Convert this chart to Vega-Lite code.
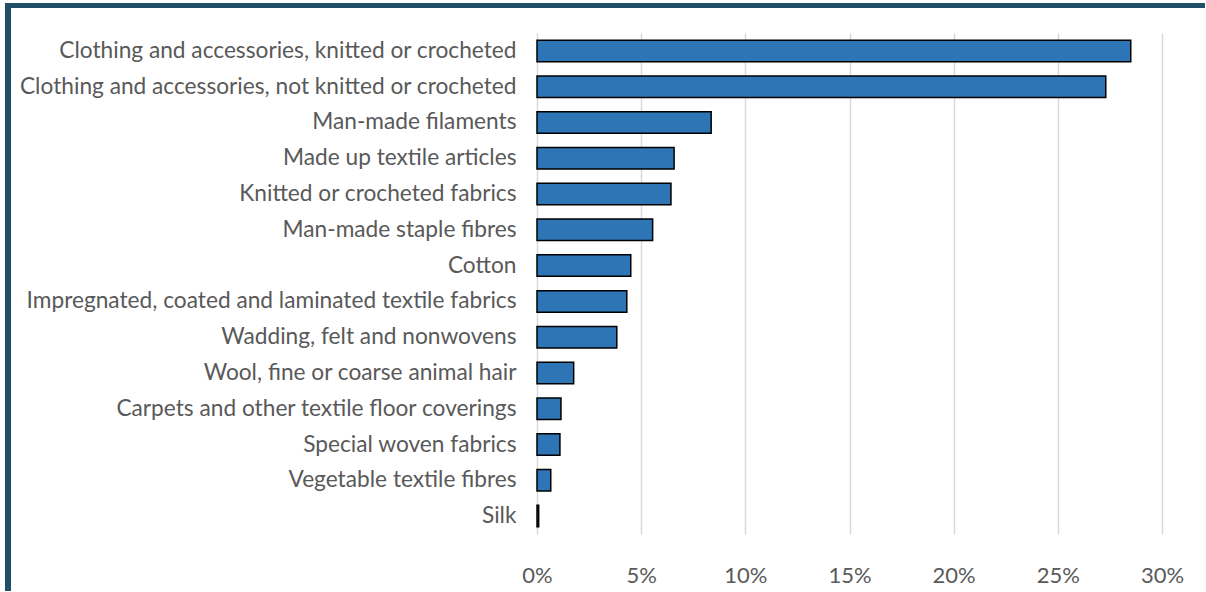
{
  "$schema": "https://vega.github.io/schema/vega-lite/v6.json",
  "padding": {"left": 5, "top": 3, "right": 0, "bottom": 0},
  "autosize": {"type": "pad"},
  "background": "white",
  "spacing": 0,
  "config": {
    "view": {"stroke": null},
    "font": "Lato"
  },
  "vconcat": [
    {
      "spacing": 0,
      "hconcat": [
        {
          "width": 6,
          "height": 30,
          "data": {"values": [{"part": "left border, top"}]},
          "mark": {"type": "rect", "color": "#1F4E66"},
          "encoding": {}
        },
        {
          "width": 1194,
          "height": 5,
          "data": {"values": [{"part": "top border"}]},
          "mark": {"type": "rect", "color": "#1F4E66"},
          "encoding": {}
        }
      ]
    },
    {
      "spacing": 0,
      "hconcat": [
        {
          "width": 6,
          "height": 558,
          "data": {"values": [{"part": "left border"}]},
          "mark": {"type": "rect", "color": "#1F4E66"},
          "encoding": {}
        },
        {
          "width": 625,
          "height": 501,
          "data": {
            "values": [
              {"category": "Clothing and accessories, knitted or crocheted", "share": 0.285},
              {"category": "Clothing and accessories, not knitted or crocheted", "share": 0.273},
              {"category": "Man-made filaments", "share": 0.0836},
              {"category": "Made up textile articles", "share": 0.0658},
              {"category": "Knitted or crocheted fabrics", "share": 0.0643},
              {"category": "Man-made staple fibres", "share": 0.0555},
              {"category": "Cotton", "share": 0.045},
              {"category": "Impregnated, coated and laminated textile fabrics", "share": 0.0431},
              {"category": "Wadding, felt and nonwovens", "share": 0.0383},
              {"category": "Wool, fine or coarse animal hair", "share": 0.0176},
              {"category": "Carpets and other textile floor coverings", "share": 0.0115},
              {"category": "Special woven fabrics", "share": 0.011},
              {"category": "Vegetable textile fibres", "share": 0.0066},
              {"category": "Silk", "share": 0.0008}
            ]
          },
          "mark": {"type": "bar", "color": "#2E75B6", "stroke": "#000000", "strokeWidth": 1.5},
          "encoding": {
            "y": {
              "field": "category",
              "type": "nominal",
              "sort": "-x",
              "scale": {"paddingInner": 0.4, "paddingOuter": 0.2},
              "axis": {
                "title": null,
                "domain": false,
                "ticks": false,
                "labelPadding": 21,
                "labelLimit": 600,
                "labelFont": "Lato",
                "labelFontSize": 22.7,
                "labelColor": "#595959",
                "minExtent": 526,
                "maxExtent": 526
              }
            },
            "x": {
              "field": "share",
              "type": "quantitative",
              "scale": {"domain": [0, 0.3], "nice": false},
              "axis": {
                "title": null,
                "format": ".0%",
                "values": [0, 0.05, 0.1, 0.15, 0.2, 0.25, 0.3],
                "domain": false,
                "ticks": false,
                "grid": true,
                "gridColor": "#D9D9D9",
                "gridWidth": 1.5,
                "labelPadding": 31,
                "labelFont": "Lato",
                "labelFontSize": 22,
                "labelColor": "#595959",
                "labelFlush": false
              }
            }
          }
        }
      ]
    }
  ]
}
